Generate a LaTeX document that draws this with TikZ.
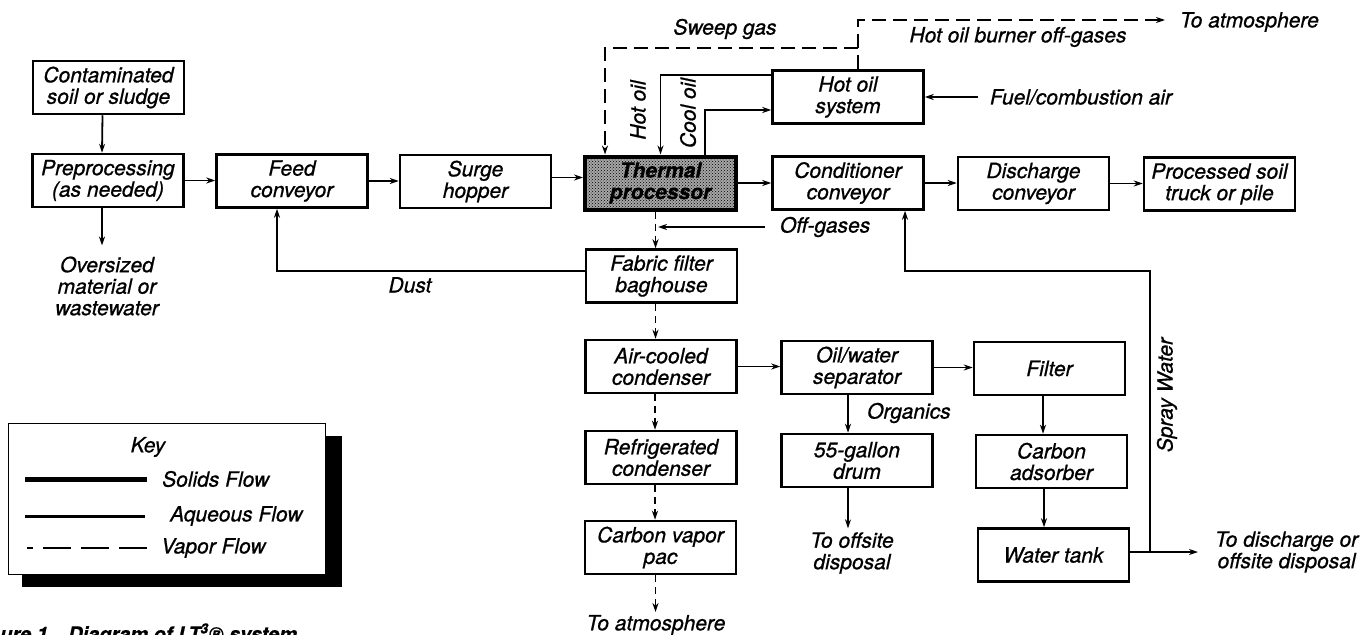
\documentclass[tikz,border=0pt]{standalone}
\usepackage{fontspec}
\setmainfont{TeX Gyre Heros}[ItalicFeatures={FakeBold=0.8},BoldItalicFeatures={FakeBold=0.4}]
\usetikzlibrary{arrows.meta,patterns,calc}
\begin{document}
\begin{tikzpicture}[x=1pt,y=-1pt,
  every node/.style={font=\fontsize{21}{21.5}\selectfont\itshape, inner sep=0pt},
  box/.style={draw, line width=2.5pt, minimum width=151pt, minimum height=53pt, align=center},
  arr/.style={-{Stealth[length=9pt,width=6pt]}, line width=1.8pt},
  vap/.style={arr, dash pattern=on 14pt off 7pt},
  vaps/.style={arr, dash pattern=on 7pt off 5pt},
  lbl/.style={align=center},
  capt/.style={font=\fontsize{20}{21}\selectfont\bfseries\itshape}]
\useasboundingbox (0,0) rectangle (1372,634);
\clip (0,0) rectangle (1372,634);
\fill[white] (0,0) rectangle (1372,634);

% boxes
\node[box] (cont) at (108.5,87.5) {Contaminated\\soil or sludge};
\node[box] (pre) at (108,180.5) {Preprocessing\\(as needed)};
\node[box] (feed) at (292,181) {Feed\\conveyor};
\node[box] (surge) at (475.5,181.5) {Surge\\hopper};
\node[box, line width=4pt, preaction={fill=black!35}, pattern=crosshatch dots, font=\fontsize{21}{21.5}\selectfont\bfseries\itshape] (therm) at (660.5,183) {Thermal\\processor};
\node[box] (cond) at (848,183) {Conditioner\\conveyor};
\node[box] (disc) at (1033.5,183.5) {Discharge\\conveyor};
\node[box] (proc) at (1219.5,184) {Processed soil\\truck or pile};
\node[box] (hot) at (848,97) {Hot oil\\system};
\node[box] (fab) at (661.5,276) {Fabric filter\\baghouse};
\node[box] (air) at (661,366.5) {Air-cooled\\condenser};
\node[box] (refr) at (661,457.5) {Refrigerated\\condenser};
\node[box] (cvp) at (660.5,547.5) {Carbon vapor\\pac};
\node[box] (ows) at (857,367.5) {Oil/water\\separator};
\node[box] (drum) at (857,460.5) {55-gallon\\drum};
\node[box] (filt) at (1049.5,368.5) {Filter};
\node[box] (cads) at (1051.5,461.5) {Carbon\\adsorber};
\node[box] (tank) at (1053.5,555) {Water tank};

% labels
\node[lbl, outer sep=11pt] (over) at (107,286) {Oversized\\material or\\wastewater};
\node[lbl] (dust) at (410,285) {Dust};
\node[lbl] (sweep) at (725,29) {Sweep gas};
\node[lbl] (hobo) at (1018,37) {Hot oil burner off-gases};
\node[lbl, anchor=west, outer sep=15pt] (atm1) at (1165,22) {To atmosphere};
\node[lbl, anchor=west, outer sep=12pt] (fuel) at (978,97) {Fuel/combustion air};
\node[lbl, anchor=west, outer sep=15pt] (offg) at (765,227) {Off-gases};
\node[lbl, anchor=west] (org) at (867,413) {Organics};
\node[lbl, rotate=90] (hoil) at (638,110) {Hot oil};
\node[lbl, rotate=90] (coil) at (688,113) {Cool oil};
\node[lbl, rotate=90] (spray) at (1167,395) {Spray Water};
\node[lbl, anchor=north, outer sep=3pt] (atm2) at (656,612) {To atmosphere};
\node[lbl, outer sep=4pt] (offs) at (852,553) {To offsite\\disposal};
\node[lbl, anchor=west, outer sep=17pt] (tod) at (1198,552) {To discharge or\\offsite disposal};

% solids / aqueous connectors
\draw[arr] ([xshift=-6]cont.south) -- ([xshift=-6]pre.north);
\draw[arr] ([xshift=-6]pre.south) -- ([xshift=-5]over.north);
\draw[arr] (pre.east) -- (pre.east -| feed.west);
\draw[arr] (feed.east) -- (feed.east -| surge.west);
\draw[arr] ([yshift=4]surge.east) -- ([yshift=4]surge.east -| therm.west);
\draw[arr] (therm.east) -- (therm.east -| cond.west);
\draw[arr] (cond.east) -- (cond.east -| disc.west);
\draw[arr] (disc.east) -- (disc.east -| proc.west);
\draw[arr] ([yshift=5]fab.west) -| ([xshift=-15]feed.south);
\draw[arr] ([yshift=22]hot.west) -| (therm.north);
\draw[arr] ([xshift=44.5]therm.north) |- ([yshift=-13]hot.west);
\draw[arr] (fuel.west) -- (fuel.west -| hot.east);

% vapor connectors
\coordinate (top) at (858,20);
\coordinate (jn) at (858,48);
\draw[vap] ([xshift=10]hot.north) -- (top) -- (top -| atm1.west);
\draw[vap] (jn) -| ([xshift=-55.5]therm.north);
\draw[vaps] ([xshift=-5]therm.south) -- ([xshift=-5]therm.south |- fab.north);
\coordinate (vl) at ([xshift=-2.5]therm.south);
\draw[arr] (offg.west) -- (offg.west -| vl);
\draw[vaps] ([xshift=-6]fab.south) -- ([xshift=-6]fab.south |- air.north);
\draw[vaps] ([xshift=-6]air.south) -- ([xshift=-6]air.south |- refr.north);
\draw[vaps] ([xshift=-6]refr.south) -- ([xshift=-6]refr.south |- cvp.north);
\draw[vaps] ([xshift=-5]cvp.south) -- ([xshift=-5]cvp.south |- atm2.north);

% water treatment
\draw[arr] (air.east) -- (air.east -| ows.west);
\draw[arr] ([xshift=-9]ows.south) -- ([xshift=-9]ows.south |- drum.north);
\draw[arr] ([xshift=-9]drum.south) -- ([xshift=-9]drum.south |- offs.north);
\draw[arr] (ows.east) -- (ows.east -| filt.west);
\draw[arr] ([xshift=-6.5]filt.south) -- ([xshift=-6.5]filt.south |- cads.north);
\draw[arr] ([xshift=-7.5]cads.south) -- ([xshift=-7.5]cads.south |- tank.north);
\draw[arr] ([yshift=3]tank.east) -- ([yshift=3]tank.east -| tod.west);
\coordinate (sj) at (1150,552);
\coordinate (sc) at (1150,271);
\draw[arr] (sj) -- (sc) -| ([xshift=57]cond.south);

% key
\fill (22,436) rectangle (342,587);
\node[draw, fill=white, line width=1.5pt, minimum width=317pt, minimum height=151pt] (key) at (167,499) {};
\node (keyt) at (148,447) {Key};
\draw[line width=5pt] (25,479) -- (147,479);
\node[anchor=west] (ks) at (162,479) {Solids Flow};
\draw[line width=3pt] (25,516) -- (145,516);
\node[anchor=west] (ka) at (170,516) {Aqueous Flow};
\draw[line width=2.5pt, dash pattern=on 28pt off 10pt] (147,548) -- (27,548);
\node[anchor=west] (kv) at (161,548) {Vapor Flow};

% caption (cut by the page edge, as in the reference)
\node[capt, anchor=base west] (cap1) at (0,641) {ure 1};
\node[capt, anchor=base west] (cap2) at (68,641) {Diagram of LT\textsuperscript{3}® system};
\end{tikzpicture}
\end{document}
